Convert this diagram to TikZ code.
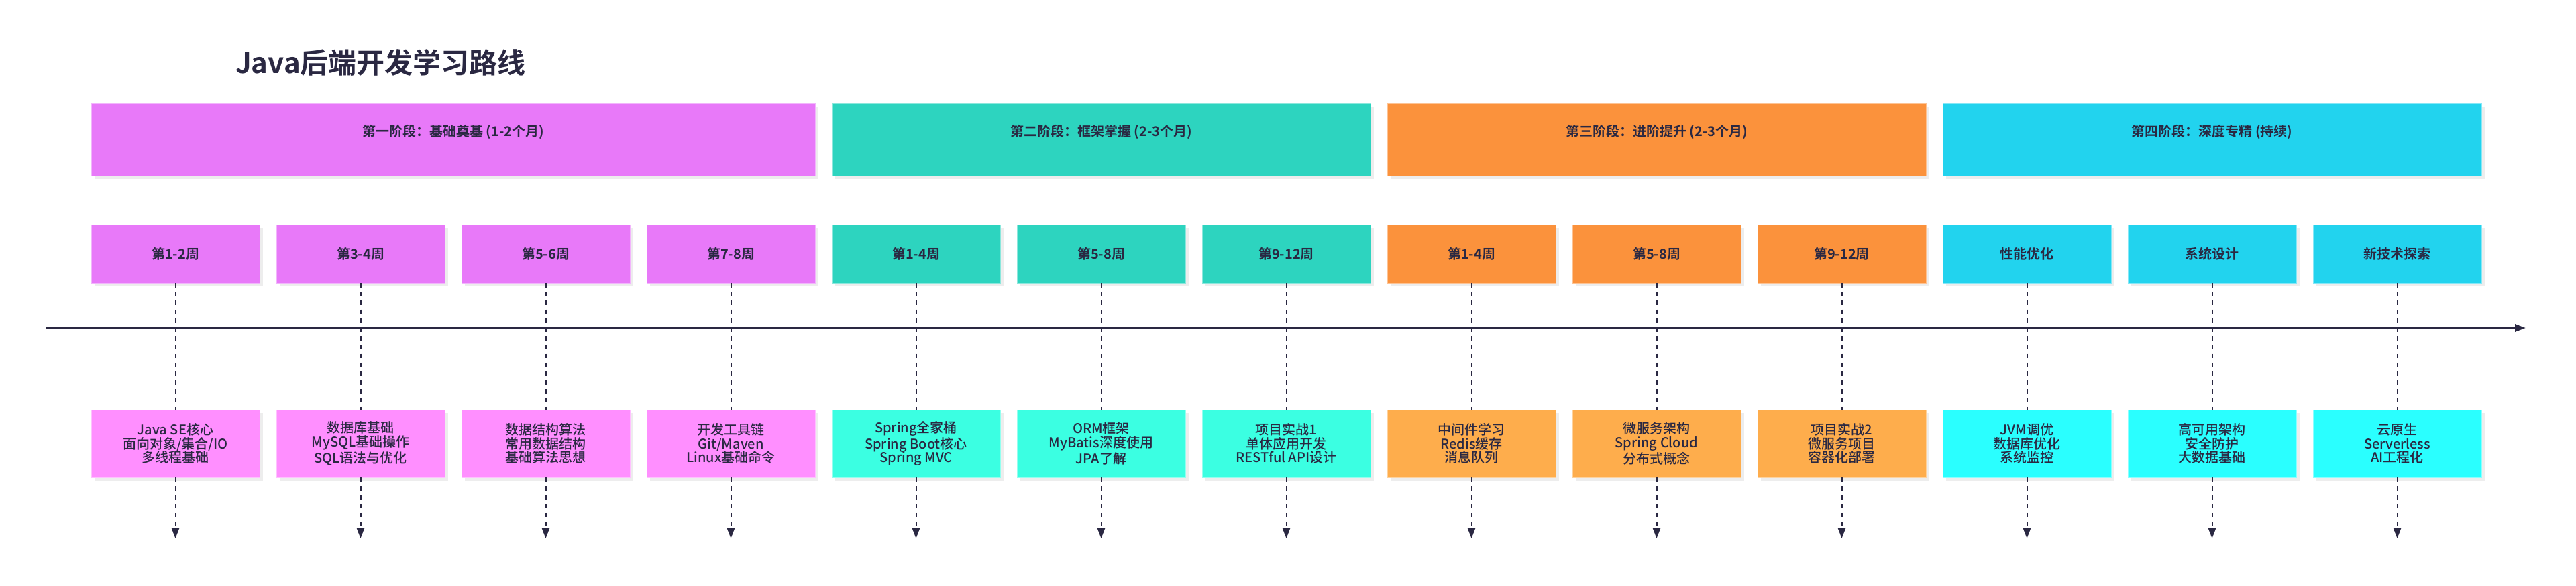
\documentclass[tikz,border=0pt]{standalone}
\usepackage{fontspec}
\setmainfont{Noto Sans CJK SC}[UprightFont=* Medium, BoldFont=* Bold]
\usetikzlibrary{arrows.meta, positioning, shadows}

\definecolor{ink}{HTML}{2A2842}
\definecolor{colA}{HTML}{E879F9}
\definecolor{colB}{HTML}{2DD4BF}
\definecolor{colC}{HTML}{FB923C}
\definecolor{colD}{HTML}{22D3EE}
\definecolor{litA}{HTML}{FF8FFF}
\definecolor{litB}{HTML}{3BFFE2}
\definecolor{litC}{HTML}{FEAD4C}
\definecolor{litD}{HTML}{2AFFFF}

\begin{document}
\begin{tikzpicture}[x=1pt, y=1pt, >={Triangle[length=7.5pt, width=5.5pt]}, node distance=12.5pt]
	\tikzstyle{card} = [inner sep=0pt, outer sep=0pt, align=center, text=ink, line width=0.5pt, font=\fontsize{10pt}{10.4pt}\selectfont, drop shadow={shadow xshift=2.5pt, shadow yshift=-2.5pt, fill=black!7, opacity=1}]
	\tikzstyle{stage} = [card, minimum width=401.5pt, minimum height=54pt, text height=8pt, text depth=13pt, font=\fontsize{10pt}{10.4pt}\selectfont\bfseries]
	\tikzstyle{week} = [card, minimum width=125.5pt, minimum height=43.5pt, font=\fontsize{10pt}{10.4pt}\selectfont\bfseries]
	\tikzstyle{topic} = [card, minimum width=125.5pt, minimum height=50.5pt]
	\tikzstyle{guide} = [ink, line width=1pt, dash pattern=on 3.3pt off 3.3pt]
	\tikzstyle{secA} = [fill=colA, draw=colA!55!white]
	\tikzstyle{secB} = [fill=colB, draw=colB!55!white]
	\tikzstyle{secC} = [fill=colC, draw=colC!55!white]
	\tikzstyle{secD} = [fill=colD, draw=colD!55!white]
	\tikzstyle{topA} = [fill=litA, draw=litA!55!white]
	\tikzstyle{topB} = [fill=litB, draw=litB!55!white]
	\tikzstyle{topC} = [fill=litC, draw=litC!55!white]
	\tikzstyle{topD} = [fill=litD, draw=litD!55!white]

	\fill[white] (0,0) rectangle (1920,-436.5);
	\useasboundingbox (0,0) rectangle (1920,-436.5);

	\node[anchor=west, text=ink, font=\fontsize{21pt}{25pt}\selectfont\bfseries] (title) at (172,-46.5) {Java后端开发学习路线};

	% weeks
	\path
		node[week, secA] (w1) at (130.75,-189.25) {第1-2周}
		node[week, secA, right=of w1] (w2) {第3-4周}
		node[week, secA, right=of w2] (w3) {第5-6周}
		node[week, secA, right=of w3] (w4) {第7-8周}
		node[week, secB, right=of w4] (w5) {第1-4周}
		node[week, secB, right=of w5] (w6) {第5-8周}
		node[week, secB, right=of w6] (w7) {第9-12周}
		node[week, secC, right=of w7] (w8) {第1-4周}
		node[week, secC, right=of w8] (w9) {第5-8周}
		node[week, secC, right=of w9] (w10) {第9-12周}
		node[week, secD, right=of w10] (w11) {性能优化}
		node[week, secD, right=of w11] (w12) {系统设计}
		node[week, secD, right=of w12] (w13) {新技术探索}
	;

	% stages
	\path
		node[stage, secA, minimum width=539.5pt, above right=36.5pt and 0pt of w1.north west] (p1) {第一阶段：基础奠基 (1-2个月)}
		node[stage, secB, above right=36.5pt and 0pt of w5.north west] (p2) {第二阶段：框架掌握 (2-3个月)}
		node[stage, secC, above right=36.5pt and 0pt of w8.north west] (p3) {第三阶段：进阶提升 (2-3个月)}
		node[stage, secD, above right=36.5pt and 0pt of w11.north west] (p4) {第四阶段：深度专精 (持续)}
	;

	% topics
	\path
		node[topic, topA, below=94.5pt of w1] (d1) {Java SE核心\\面向对象/集合/IO\\多线程基础}
		node[topic, topA, below=94.5pt of w2] (d2) {数据库基础\\MySQL基础操作\\SQL语法与优化}
		node[topic, topA, below=94.5pt of w3] (d3) {数据结构算法\\常用数据结构\\基础算法思想}
		node[topic, topA, below=94.5pt of w4] (d4) {开发工具链\\Git/Maven\\Linux基础命令}
		node[topic, topB, below=94.5pt of w5] (d5) {Spring全家桶\\Spring Boot核心\\Spring MVC}
		node[topic, topB, below=94.5pt of w6] (d6) {ORM框架\\MyBatis深度使用\\JPA了解}
		node[topic, topB, below=94.5pt of w7] (d7) {项目实战1\\单体应用开发\\RESTful API设计}
		node[topic, topC, below=94.5pt of w8] (d8) {中间件学习\\Redis缓存\\消息队列}
		node[topic, topC, below=94.5pt of w9] (d9) {微服务架构\\Spring Cloud\\分布式概念}
		node[topic, topC, below=94.5pt of w10] (d10) {项目实战2\\微服务项目\\容器化部署}
		node[topic, topD, below=94.5pt of w11] (d11) {JVM调优\\数据库优化\\系统监控}
		node[topic, topD, below=94.5pt of w12] (d12) {高可用架构\\安全防护\\大数据基础}
		node[topic, topD, below=94.5pt of w13] (d13) {云原生\\Serverless\\AI工程化}
	;

	% timeline
	\coordinate (t0) at (34.5,-244.5);
	\coordinate (t1) at (1882.5,-244.5);
	\draw[->, ink, line width=1.5pt, >={Triangle[length=8pt, width=5.5pt]}] (t0) -- (t1);

	\foreach \i in {1,...,13} {
		\coordinate[below=45.5pt of d\i] (e\i);
		\path (w\i) edge[guide] (d\i)
			(d\i) edge[guide, ->] (e\i);
	}
\end{tikzpicture}
\end{document}
